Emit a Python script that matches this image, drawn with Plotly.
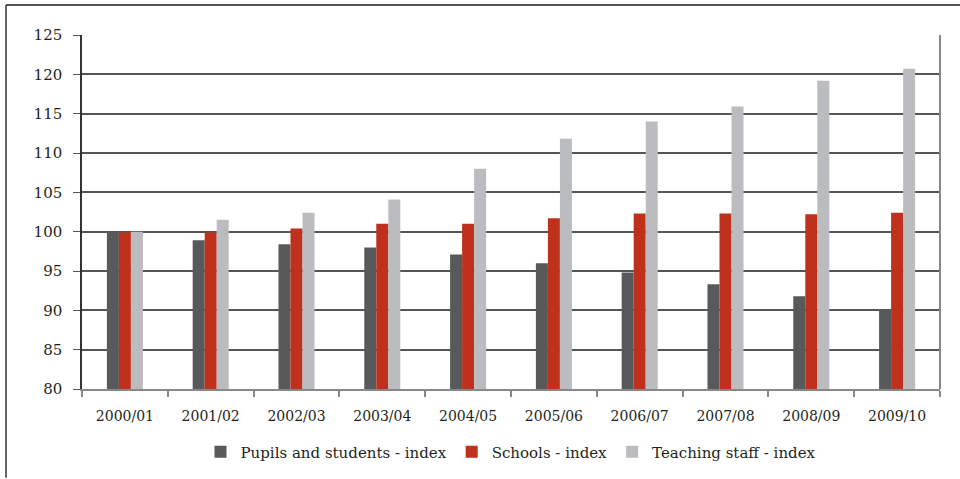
import plotly.graph_objects as go

categories = ["2000/01", "2001/02", "2002/03", "2003/04", "2004/05",
              "2005/06", "2006/07", "2007/08", "2008/09", "2009/10"]
pupils = [100.0, 98.9, 98.4, 98.0, 97.1, 96.0, 94.8, 93.3, 91.8, 90.1]
schools = [99.9, 99.9, 100.4, 101.0, 101.0, 101.7, 102.3, 102.3, 102.2, 102.4]
teaching = [100.0, 101.5, 102.4, 104.1, 108.0, 111.8, 114.0, 115.9, 119.2, 120.7]
series_names = ["Pupils and students - index", "Schools - index", "Teaching staff - index"]
y_ticks = [80, 85, 90, 95, 100, 105, 110, 115, 120, 125]

colors = ["#58595b", "#c0311d", "#bbbcbf"]
FONT = "DejaVu Serif"

fig = go.Figure()
for name, vals, col in zip(series_names, [pupils, schools, teaching], colors):
    fig.add_trace(go.Bar(x=categories, y=vals, name=name, marker_color=col,
                         marker_line_width=0))

L, R, T, B = 82, 20, 35, 89
W, H = 960, 479
pw, ph = W - L - R, H - T - B

fig.update_layout(
    width=W, height=H,
    margin=dict(l=L, r=R, t=T, b=B, pad=0),
    paper_bgcolor="white", plot_bgcolor="white",
    barmode="group", bargap=0.58, bargroupgap=0,
    font=dict(family=FONT, size=14, color="#231f20"),
    legend=dict(orientation="h", x=0.5, xanchor="center", y=(390 - 452) / ph,
                yanchor="middle", font=dict(size=15, family=FONT),
                itemwidth=30, tracegroupgap=0),
    xaxis=dict(showgrid=False, showline=True, linecolor="#888888", linewidth=2,
               ticks="outside", tickson="boundaries", ticklen=6, tickcolor="#888888",
               tickwidth=2, tickfont=dict(size=14), ticklabelstandoff=13, fixedrange=True),
    yaxis=dict(range=[80, 125], tickvals=y_ticks, showgrid=True, gridcolor="#555555",
               gridwidth=1.5, showline=True, linecolor="#333333", linewidth=1.5,
               ticks="outside", ticklen=7, tickcolor="#555555",
               tickfont=dict(size=15), ticklabelstandoff=8, zeroline=False),
    shapes=[
        dict(type="line", xref="paper", yref="paper",
             x0=(6 - L) / pw, x1=(W - L) / pw, y0=(390 - 5) / ph, y1=(390 - 5) / ph,
             line=dict(color="#555555", width=2)),
        dict(type="line", xref="paper", yref="paper",
             x0=(6 - L) / pw, x1=(6 - L) / pw, y0=(390 - 5) / ph, y1=(390 - H) / ph,
             line=dict(color="#333333", width=1.5)),
        dict(type="line", xref="paper", yref="paper",
             x0=1, x1=1, y0=0, y1=1, line=dict(color="#888888", width=2)),
    ],
)

fig.write_html("out.html", config={"displayModeBar": False},
               post_script="document.body.style.margin='0';document.body.style.overflow='hidden';")
